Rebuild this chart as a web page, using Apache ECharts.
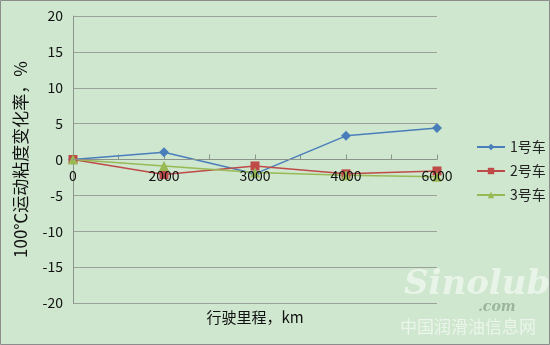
<!DOCTYPE html>
<html><head><meta charset="utf-8">
<script src="https://cdn.jsdelivr.net/npm/echarts@6/dist/echarts.min.js"></script>
<style>html,body{margin:0;padding:0;background:#cfe7cf}#c{width:550px;height:345px}</style>
</head><body><div id="c"></div>
<script>
const categories = ['0', '2000', '3000', '4000', '6000'];
const car1 = [0, 1.0, -2.0, 3.3, 4.4];
const car2 = [0, -2.1, -0.9, -2.0, -1.6];
const car3 = [0, -0.9, -1.8, -2.2, -2.4];
const seriesNames = ['1号车', '2号车', '3号车'];
const yTicks = [-20, 20, 5];
const tickCats = ['', '', '', '', '', '', '', '', ''];

const chart = echarts.init(document.getElementById('c'));
const font = '"Noto Sans CJK SC", "Liberation Sans", sans-serif';
const gridBox = {left: 73, right: 113, top: 16, bottom: 42, containLabel: false, outerBoundsMode: 'none'};
chart.setOption({
  backgroundColor: '#cfe7cf',
  animation: false,
  textStyle: {fontFamily: font},
  grid: [Object.assign({}, gridBox), Object.assign({}, gridBox)],
  legend: {
    orient: 'vertical', left: 471, top: 133, itemGap: 6, itemWidth: 28, itemHeight: 8,
    textStyle: {fontSize: 14, lineHeight: 18, color: '#222', fontFamily: font},
    data: seriesNames
  },
  xAxis: [{
    type: 'category', data: categories, boundaryGap: false, gridIndex: 0, z: 10,
    position: 'bottom', offset: -143.5,
    name: '行驶里程，km', nameLocation: 'middle', nameGap: 150,
    nameTextStyle: {fontSize: 15, color: '#111', verticalAlign: 'top'},
    axisLine: {onZero: false, lineStyle: {color: '#8a948a'}},
    axisTick: {show: false},
    axisLabel: {fontSize: 14, color: '#111', margin: 9},
    splitLine: {show: false}
  }, {
    type: 'category', data: tickCats, boundaryGap: false, gridIndex: 1,
    axisLine: {show: false, onZero: true},
    axisTick: {show: true, inside: true, length: 5, lineStyle: {color: '#8a948a'}},
    axisLabel: {show: false}, splitLine: {show: false}
  }],
  yAxis: [{
    type: 'value', min: yTicks[0], max: yTicks[1], interval: yTicks[2], gridIndex: 0,
    name: '100℃运动粘度变化率，%', nameLocation: 'middle', nameGap: 44,
    nameTextStyle: {fontSize: 17, color: '#111'},
    axisLine: {show: true, lineStyle: {color: '#8a948a'}},
    axisTick: {show: false},
    axisLabel: {fontSize: 14, color: '#111', margin: 10},
    splitLine: {lineStyle: {color: '#9aa29a', width: 1}}
  }, {
    type: 'value', min: yTicks[0], max: yTicks[1], interval: yTicks[2], gridIndex: 1,
    show: false
  }],
  series: [
    {name: seriesNames[0], type: 'line', data: car1, symbol: 'diamond', symbolSize: 10,
     color: '#4a7ebb', lineStyle: {width: 1.5}},
    {name: seriesNames[1], type: 'line', data: car2, symbol: 'rect', symbolSize: 9,
     color: '#be4b48', lineStyle: {width: 1.5}},
    {name: seriesNames[2], type: 'line', data: car3, symbol: 'triangle', symbolSize: 10,
     color: '#98b954', lineStyle: {width: 1.5}}
  ],
  graphic: [
    {type: 'text', left: 404, top: 268, style: {text: 'Sinolub', font: 'italic bold 34px "DejaVu Serif", serif', fill: 'rgba(255,255,255,0.55)'}},
    {type: 'text', left: 478, top: 300, style: {text: '.com', font: 'italic bold 14px "DejaVu Serif", serif', fill: 'rgba(120,150,120,0.6)'}},
    {type: 'text', left: 400, top: 318, style: {text: '中国润滑油信息网', font: '17px "Noto Sans CJK SC", sans-serif', fill: 'rgba(255,255,255,0.6)'}},
    {type: 'rect', shape: {x: 0.5, y: 0.5, width: 549, height: 344}, style: {fill: 'none', stroke: '#8c8c8c', lineWidth: 1}, silent: true}
  ]
});
</script></body></html>
